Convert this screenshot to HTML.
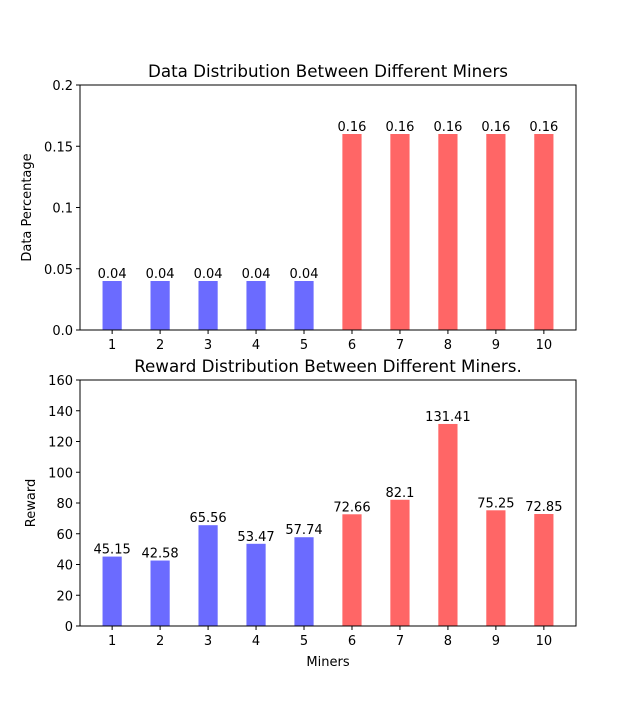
<!DOCTYPE html>
<html><head><meta charset="utf-8"><style>
body{margin:0;background:#fff;}
svg text{font-family:"DejaVu Sans","Liberation Sans",sans-serif;}
</style></head><body>
<svg id="chart" width="640" height="703" xmlns="http://www.w3.org/2000/svg"></svg>
<script>
const categories=[1,2,3,4,5,6,7,8,9,10];
const dataValues=[0.04,0.04,0.04,0.04,0.04,0.16,0.16,0.16,0.16,0.16];
const dataLabels=["0.04","0.04","0.04","0.04","0.04","0.16","0.16","0.16","0.16","0.16"];
const rewardValues=[45.15,42.58,65.56,53.47,57.74,72.66,82.1,131.41,75.25,72.85];
const rewardLabels=["45.15","42.58","65.56","53.47","57.74","72.66","82.1","131.41","75.25","72.85"];
const dataTicks=[0,0.05,0.1,0.15,0.2];
const dataTickLabels=["0.0","0.05","0.1","0.15","0.2"];
const rewardTicks=[0,20,40,60,80,100,120,140,160];
const barColors=["#6b6bff","#6b6bff","#6b6bff","#6b6bff","#6b6bff","#ff6666","#ff6666","#ff6666","#ff6666","#ff6666"];
const svg=document.getElementById('chart');
const NS="http://www.w3.org/2000/svg";
function mk(tag,attrs,text){const e=document.createElementNS(NS,tag);for(const k in attrs)e.setAttribute(k,attrs[k]);if(text!==undefined)e.textContent=text;svg.appendChild(e);return e;}
function panel(p){
  const L=80,R=576,T=p.top,B=p.bottom;
  const xs=v=>L+(v-0.33)/(10.34)*(R-L);
  const ys=v=>B-(v-p.ymin)/(p.ymax-p.ymin)*(B-T);
  const t=mk('text',{x:(L+R)/2,y:T-8,'text-anchor':'middle','font-size':16.7},p.title);
  
  p.vals.forEach((v,i)=>{
    const x=xs(categories[i]);
    const r=mk('rect',{x:x-9.6,y:ys(v),width:19.2,height:ys(p.ymin)-ys(v),fill:barColors[i]});
    
    const l=mk('text',{x:x,y:ys(v)-3,'text-anchor':'middle','font-size':13},p.labels[i]);
    
    mk('line',{x1:x,y1:B,x2:x,y2:B+4,stroke:'#000'});
    const tl=mk('text',{x:x,y:B+19,'text-anchor':'middle','font-size':13},String(categories[i]));
    
  });
  p.ticks.forEach((v,i)=>{
    const y=ys(v);
    mk('line',{x1:L-4,y1:y,x2:L,y2:y,stroke:'#000'});
    const tl=mk('text',{x:L-7,y:y+5,'text-anchor':'end','font-size':13},p.tickLabels[i]);
    
  });
  const ax=mk('rect',{x:L,y:T,width:R-L,height:B-T,fill:'none',stroke:'#000','stroke-width':1});
  
  const yl=mk('text',{x:0,y:0,'text-anchor':'middle','font-size':13,transform:`translate(${p.ylx},${(T+B)/2}) rotate(-90)`},p.ylabel);
  
}
panel({id:'data',top:85,bottom:330,ymin:0,ymax:0.2,vals:dataValues,labels:dataLabels,ticks:dataTicks,tickLabels:dataTickLabels,title:'Data Distribution Between Different Miners',ylabel:'Data Percentage',ylx:31});
panel({id:'reward',top:380,bottom:626,ymin:0,ymax:160,vals:rewardValues,labels:rewardLabels,ticks:rewardTicks,tickLabels:rewardTicks.map(String),title:'Reward Distribution Between Different Miners.',ylabel:'Reward',ylx:35});
const xt=mk('text',{x:328,y:666,'text-anchor':'middle','font-size':13},'Miners');


</script>
</body></html>
